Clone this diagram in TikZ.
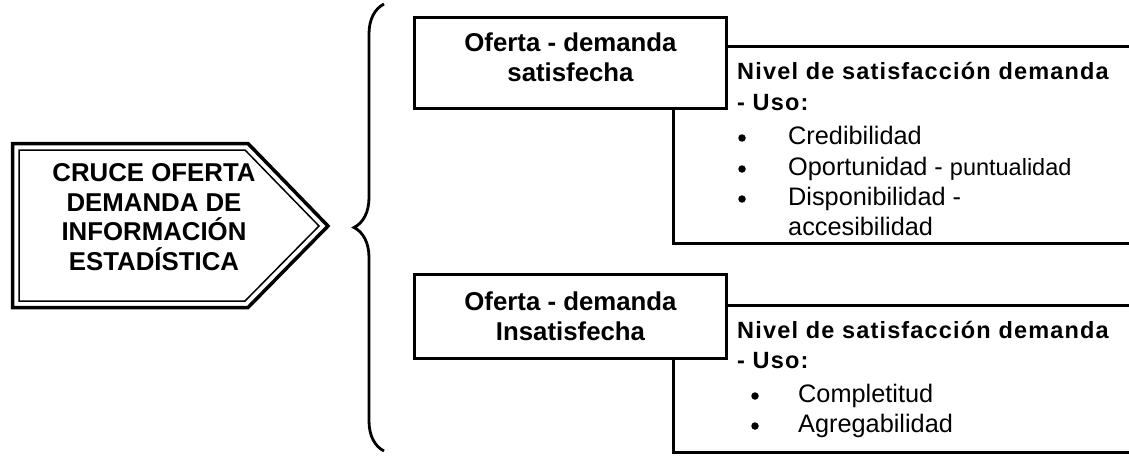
\documentclass[tikz,border=0pt]{standalone}
\usepackage{fontspec}
\setmainfont{Liberation Sans}
\newfontfamily\espaciada[LetterSpace=5]{Liberation Sans}
\usetikzlibrary{decorations.pathreplacing,positioning}
\tikzset{caja/.style={draw,line width=3pt,minimum width=312pt},
 cajatxt/.style={align=center,inner sep=0pt,font=\fontsize{25.8}{30}\selectfont\bfseries},
 linea/.style={line width=3pt},
 tit/.style={anchor=base west,inner sep=0pt,font=\fontsize{23.5}{27}\selectfont\espaciada\bfseries},
 itm/.style={anchor=base west,inner sep=0pt,font=\fontsize{25.3}{30}\selectfont},
 pto/.style={circle,fill,inner sep=0pt,minimum size=7.5pt}}

\begin{document}
\begin{tikzpicture}[x=1pt,y=-1pt]
\useasboundingbox (0,0) rectangle (1129,455);
% flecha de la izquierda (doble borde)
\draw[line width=3.5pt,line join=miter] (12.5,143.5)--(248,143.5)--(328,226)--(248,307.5)--(12.5,307.5)--cycle;
\draw[line width=1.5pt,line join=miter] (19,150)--(245,150)--(319,226)--(245,301)--(19,301)--cycle;
\node[align=center,font=\fontsize{25.8}{29.7}\selectfont\bfseries](cruce) at (154,217){CRUCE OFERTA\\DEMANDA DE\\INFORMACIÓN\\ESTADÍSTICA};
% llave
\draw[line width=2.8pt,decorate,decoration={brace,amplitude=30pt}] (384,451)--(384,4);
% cajas
\node[caja,minimum height=91pt](sat) at (570.5,63){};
\node[cajatxt](satT) at (570.5,57){Oferta - demanda\\satisfecha};
\node[caja,minimum height=84pt](ins) at (570.5,316.5){};
\node[cajatxt](insT) at (570.5,316){Oferta - demanda\\Insatisfecha};
\coordinate (finA) at (1129,46);\coordinate (codoA) at (673,243);\coordinate (finB) at (1129,243);
\coordinate (finC) at (1129,305);\coordinate (codoC) at (673,452);\coordinate (finD) at (1129,452);
\draw[linea](finA -| sat.east)--(finA);\draw[linea](codoA |- sat.south)--(codoA)--(finB);
\draw[linea](finC -| ins.east)--(finC);\draw[linea](codoC |- ins.south)--(codoC)--(finD);
% texto satisfecha
\node[tit](nivA) at (737,79){Nivel de satisfacción demanda};
\node[tit](usoA) at (737,110){- Uso:};
\node[pto](p1) at (742,138){};\node[itm](cred) at (788,144){Credibilidad};
\node[pto](p2) at (742,169){};\node[itm](opor) at (788,175){Oportunidad - {\fontsize{23.5}{30}\selectfont puntualidad}};
\node[pto](p3) at (742,199){};\node[itm](disp) at (788,205){Disponibilidad -};
\node[itm](acce) at (788,235){accesibilidad};
% texto insatisfecha
\node[tit](nivB) at (737,338){Nivel de satisfacción demanda};
\node[tit](usoB) at (737,368){- Uso:};
\node[pto](p4) at (755,396){};\node[itm](comp) at (798,402){Completitud};
\node[pto](p5) at (755,426){};\node[itm](agre) at (798,432){Agregabilidad};
\end{tikzpicture}
\end{document}
